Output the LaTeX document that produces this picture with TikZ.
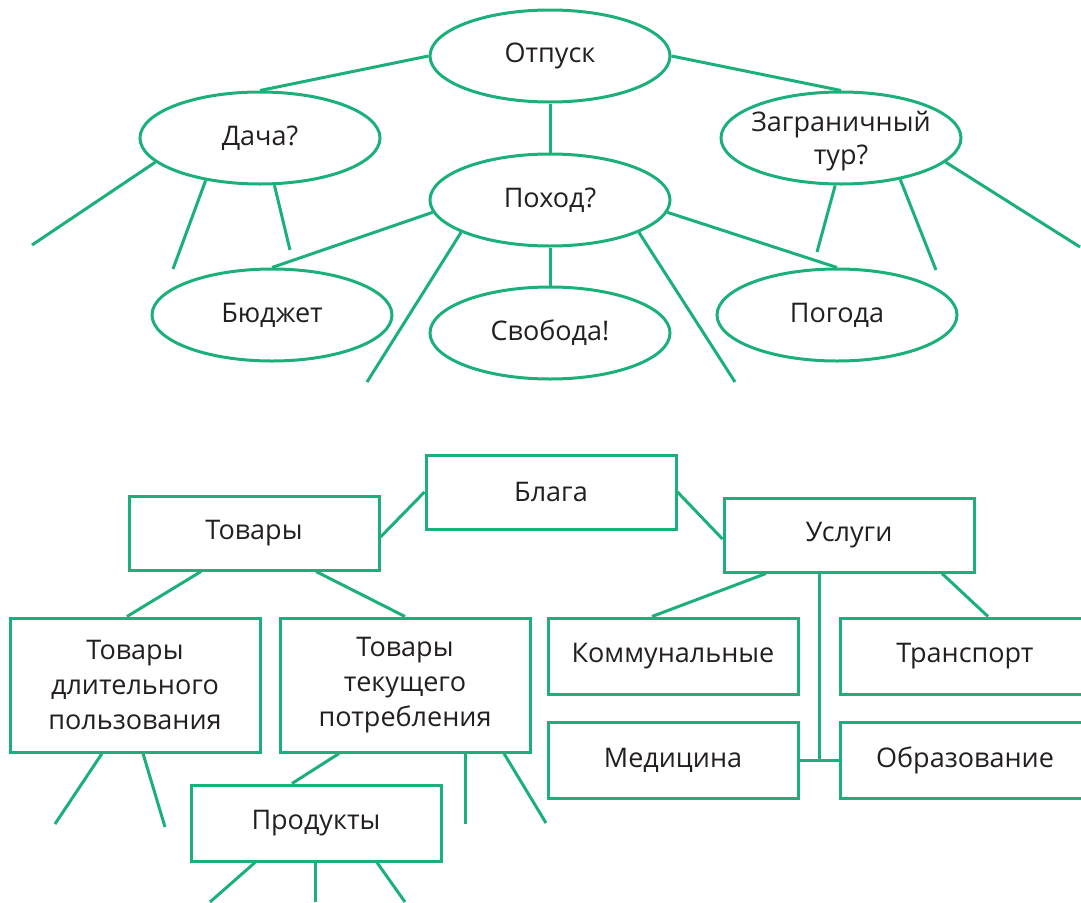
\documentclass[tikz,border=0pt]{standalone}
\usepackage{fontspec}
\setmainfont{Open Sans}
\usetikzlibrary{shapes.geometric}
\definecolor{gr}{RGB}{27,176,121}
\definecolor{tx}{RGB}{35,31,32}
\begin{document}
\begin{tikzpicture}[x=1pt,y=-1pt,
 conn/.style={draw=gr, line width=3pt},
 oval/.style={ellipse, draw=gr, line width=3pt, minimum width=240pt, minimum height=92pt, inner sep=0pt},
 lbl/.style={font=\fontsize{27}{33}\selectfont, text=tx, align=center},
 box/.style={rectangle, draw=gr, line width=3pt, minimum width=250pt, minimum height=74pt, inner sep=0pt, align=center, font=\fontsize{27}{35}\selectfont, text=tx}]
\useasboundingbox (0,0) rectangle (1081,902);
% ---------- top: ovals ----------
\node[oval, label={[lbl]center:Отпуск}] (otp) at (550,56) {};
\node[oval, label={[lbl]center:Дача?}] (dacha) at (260,138) {};
\node[oval, label={[lbl]center:Поход?}] (poh) at (550,200) {};
\node[oval, label={[lbl,yshift=-3pt]center:Заграничный\\тур?}] (zagr) at (841,138) {};
\node[oval, label={[lbl]center:Бюджет}] (budg) at (272,315) {};
\node[oval, label={[lbl]center:Свобода!}] (svob) at (550,333) {};
\node[oval, label={[lbl]center:Погода}] (pog) at (837,315) {};
% free ends
\coordinate (d1) at (32,245);
\coordinate (d2) at (173,269);
\coordinate (d3) at (290,250);
\coordinate (p1) at (367,382);
\coordinate (p2) at (735,382);
\coordinate (z1) at (817,252);
\coordinate (z2) at (936,270);
\coordinate (z3) at (1080,247);
\draw[conn] (otp.west) -- (dacha.north);
\draw[conn] (otp.east) -- (zagr.north);
\draw[conn] (otp.south) -- (poh.north);
\draw[conn] (poh.south) -- (svob.north);
\draw[conn] (poh.186) -- (budg.north);
\draw[conn] (poh.354) -- (pog.north);
\draw[conn] (poh.200) -- (p1);
\draw[conn] (poh.340) -- (p2);
\draw[conn] (dacha.193) -- (d1);
\draw[conn] (dacha.218) -- (d2);
\draw[conn] (dacha.287) -- (d3);
\draw[conn] (zagr.263) -- (z1);
\draw[conn] (zagr.325) -- (z2);
\draw[conn] (zagr.347) -- (z3);
% ---------- bottom: boxes ----------
\node[box] (blaga) at (551,492) {Блага};
\node[box] (tov) at (254,533) {Товары};
\node[box] (usl) at (849,535) {Услуги};
\node[box, minimum height=134pt] (dlit) at (135,685) {Товары\\длительного\\пользования};
\node[box, minimum height=134pt] (tek) at (405,685) {Товары\\текущего\\потребления};
\node[box, minimum height=76pt] (prod) at (316,823) {Продукты};
\node[box, minimum height=76pt] (komm) at (673,656) {Коммунальные};
\node[box, minimum height=76pt] (trans) at (965,656) {Транспорт};
\node[box, minimum height=76pt] (med) at (673,760) {Медицина};
\node[box, minimum height=76pt] (obr) at (965,760) {Образование};
% free ends
\coordinate (l1) at (55,824);
\coordinate (l2) at (165,827);
\coordinate (t1) at (465,824);
\coordinate (t2) at (546,823);
\coordinate (r1) at (210,902);
\coordinate (r2) at (315,902);
\coordinate (r3) at (405,902);
\coordinate (j) at (819,760);
\draw[conn] (blaga.west) -- ([yshift=-4pt]tov.east);
\draw[conn] (blaga.east) -- ([yshift=-4pt]usl.west);
\draw[conn] ([xshift=-53pt]tov.south) -- ([xshift=-8pt]dlit.north);
\draw[conn] ([xshift=62pt]tov.south) -- (tek.north);
\draw[conn] ([xshift=-66pt]tek.south) -- ([xshift=-24pt]prod.north);
\draw[conn] ([xshift=60pt]tek.south) -- (t1);
\draw[conn] ([xshift=99pt]tek.south) -- (t2);
\draw[conn] ([xshift=-33pt]dlit.south) -- (l1);
\draw[conn] ([xshift=8pt]dlit.south) -- (l2);
\draw[conn] ([xshift=-61pt]prod.south) -- (r1);
\draw[conn] ([xshift=-1pt]prod.south) -- (r2);
\draw[conn] ([xshift=61pt]prod.south) -- (r3);
\draw[conn] ([xshift=-83pt]usl.south) -- ([xshift=-21pt]komm.north);
\draw[conn] ([xshift=93pt]usl.south) -- ([xshift=23pt]trans.north);
\draw[conn] ([xshift=-30pt]usl.south) -- (j);
\draw[conn] (med.east) -- (obr.west);
\end{tikzpicture}
\end{document}
